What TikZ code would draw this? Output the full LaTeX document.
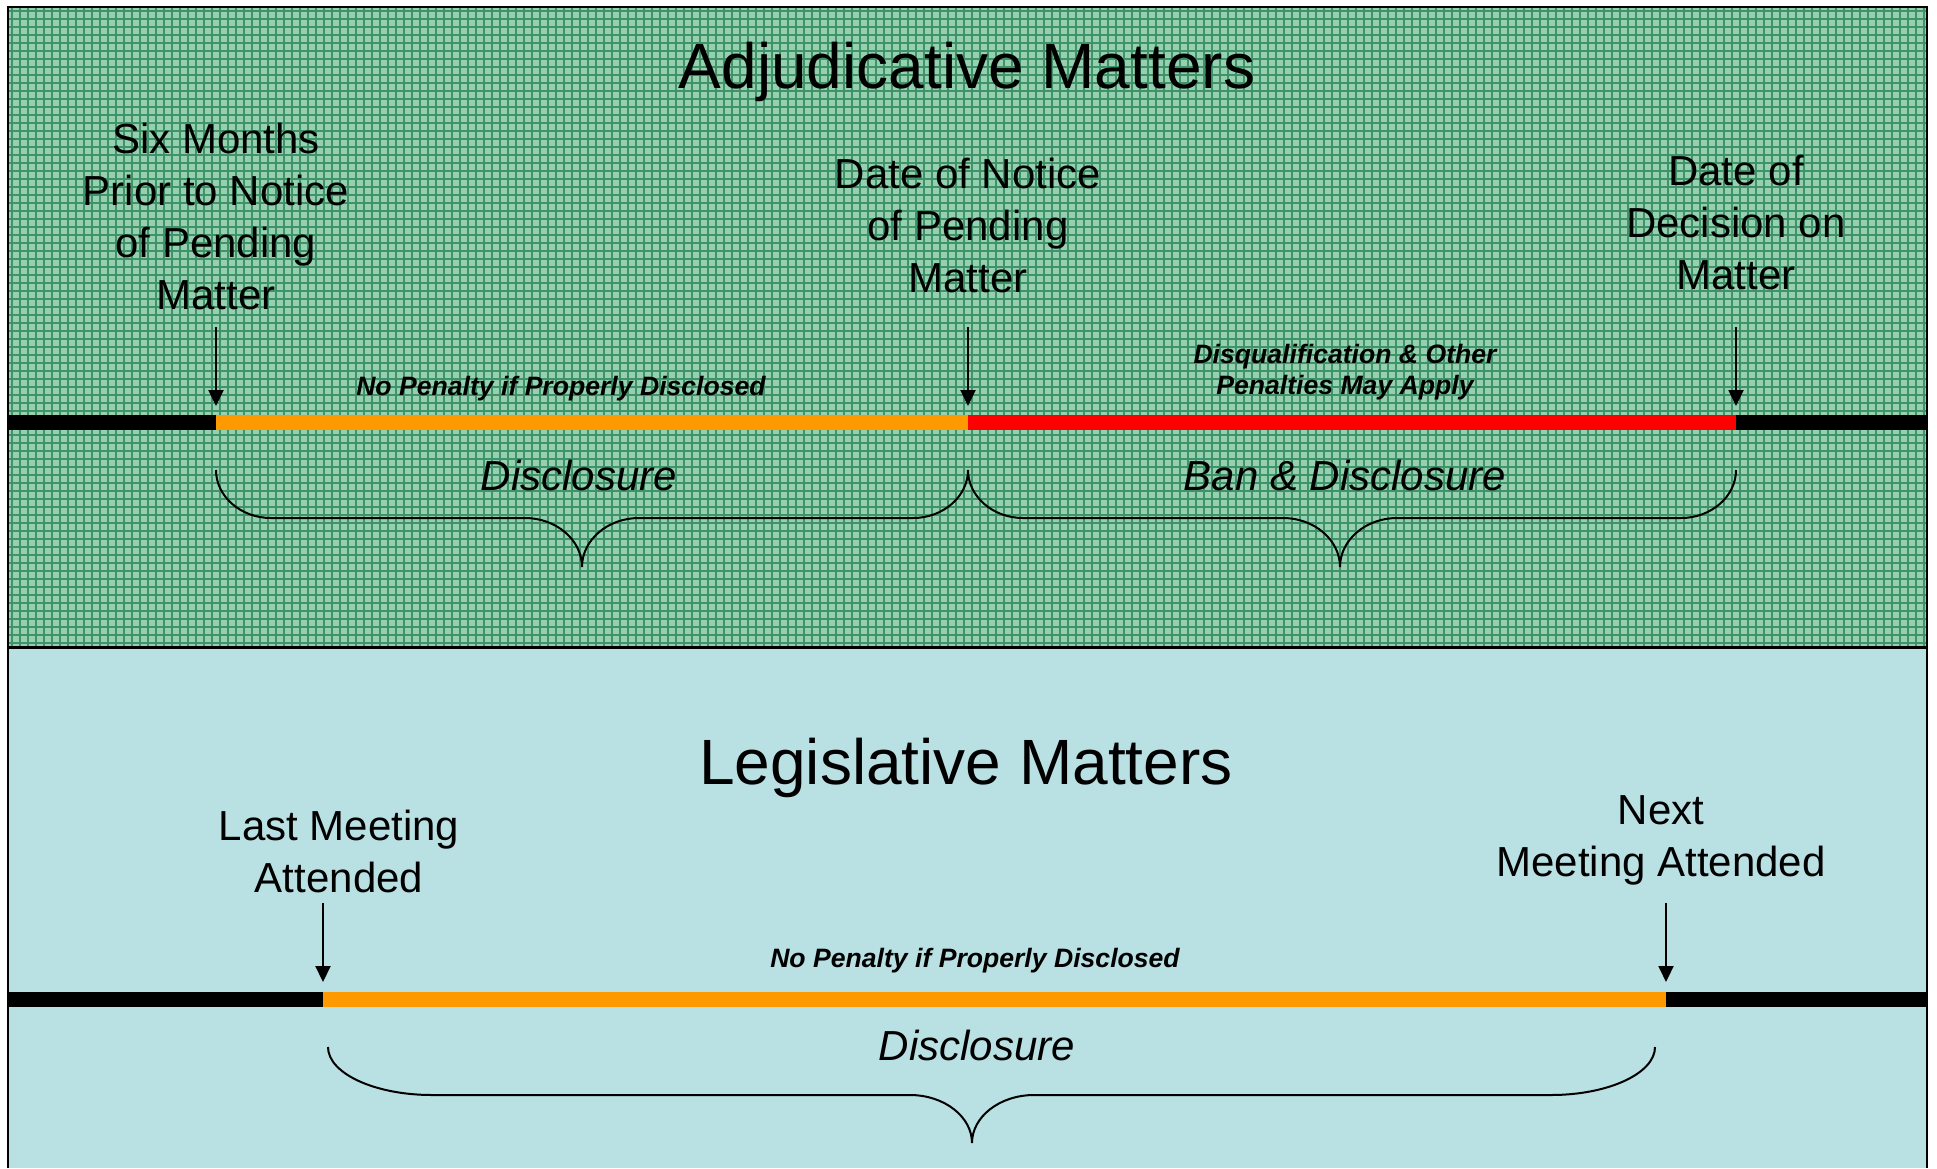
\documentclass[tikz,border=0pt]{standalone}
\usepackage{fontspec}
\setmainfont{Liberation Sans}
\usetikzlibrary{arrows.meta}

\definecolor{adjgreen}{RGB}{150,208,176}
\definecolor{adjgrid}{RGB}{62,148,104}
\definecolor{legblue}{RGB}{185,224,227}
\definecolor{barorange}{RGB}{255,153,0}
\definecolor{barred}{RGB}{255,0,0}

\tikzset{
  heading/.style={font=\fontsize{32}{38}\selectfont, anchor=base, inner sep=0pt},
  marklabel/.style={font=\fontsize{21}{26}\selectfont, align=center, anchor=south, inner sep=0pt},
  spanlabel/.style={font=\fontsize{21}{26}\selectfont\itshape, anchor=base, inner sep=0pt},
  penalty/.style={font=\fontsize{13.3}{15.5}\selectfont\bfseries\itshape, align=center, inner sep=0pt},
  pointer/.style={->, line width=1pt},
  gridline/.style={adjgrid, line width=0.6pt},
  bracepath/.style={line width=1pt},
}

% curly brace under a time span: x0, x1, tip x, top y, middle y, tip y, end radius, tip radius
\newcommand{\timebrace}[8]{%
  \draw[bracepath] (#1,#4) .. controls (#1,{#4+0.55*(#5-#4)}) and ({#1+0.45*#7},#5) .. ({#1+#7},#5)
    -- ({#3-#8},#5) .. controls ({#3-0.45*#8},#5) and (#3,{#6-0.55*(#6-#5)}) .. (#3,#6)
    .. controls (#3,{#6-0.55*(#6-#5)}) and ({#3+0.45*#8},#5) .. ({#3+#8},#5)
    -- ({#2-#7},#5) .. controls ({#2-0.45*#7},#5) and (#2,{#4+0.55*(#5-#4)}) .. (#2,#4);
}

\begin{document}
\begin{tikzpicture}[x=0.5pt,y=-0.5pt,>={Triangle[width=7.5pt,length=8pt]}]
  \useasboundingbox (0,0) rectangle (1937,1168);
  \begin{scope}

    \def\L{8}       % frame left
    \def\R{1927}    % frame right
    \def\T{7}       % frame top
    \def\S{647}     % panel split
    \def\B{1168}    % page bottom

    % panels
    \fill[adjgreen] (\L,\T) rectangle (\R,\S);
    \foreach \gx in {12,20,...,1927} \draw[gridline] (\gx,\T) -- (\gx,\S);
    \foreach \gy in {11,19,...,647} \draw[gridline] (\L,\gy) -- (\R,\gy);
    \fill[legblue] (\L,\S) rectangle (\R,\B);
    \draw[line width=1pt] (\L,\B) -- (\L,\T) -- (\R,\T) -- (\R,\B);
    \draw[line width=1.5pt] (\L,\S) -- (\R,\S);

    %% adjudicative matters
    \def\xa{216}    % six months prior
    \def\xb{968}    % notice
    \def\xc{1736}   % decision

    \coordinate (sixtop)   at (\xa,327);
    \coordinate (sixtip)   at (\xa,406);
    \coordinate (notetop)  at (\xb,327);
    \coordinate (notetip)  at (\xb,406);
    \coordinate (dectop)   at (\xc,327);
    \coordinate (dectip)   at (\xc,406);

    \fill[black]      (\L,415)  rectangle (\R,430);
    \fill[barorange]  (\xa,415) rectangle (\xb,430);
    \fill[barred]     (\xb,415) rectangle (\xc,430);

    \draw[pointer] (sixtop)  -- (sixtip);
    \draw[pointer] (notetop) -- (notetip);
    \draw[pointer] (dectop)  -- (dectip);

    \node[heading] (adj) at (967,88) {Adjudicative Matters};

    \node[marklabel] (six)      at (\xa,310) {Six Months\\Prior to Notice\\of Pending\\Matter};
    \node[marklabel] (notice)   at (\xb,293) {Date of Notice\\of Pending\\Matter};
    \node[marklabel] (decision) at (\xc,290) {Date of\\Decision on\\Matter};

    \node[penalty, anchor=base]  (nopenA) at (561,395)  {No Penalty if Properly Disclosed};
    \node[penalty, anchor=south] (disq)   at (1345,400) {Disqualification \& Other\\Penalties May Apply};

    \node[spanlabel] (discA) at (579,490)  {Disclosure};
    \node[spanlabel] (ban)   at (1345,490) {Ban \& Disclosure};

    \timebrace{\xa}{\xb}{582}{470}{518}{567}{55}{57}
    \timebrace{\xb}{\xc}{1340}{470}{518}{567}{55}{57}

    %% legislative matters
    \def\xd{323}    % last meeting
    \def\xe{1666}   % next meeting

    \coordinate (lasttop) at (\xd,903);
    \coordinate (lasttip) at (\xd,982);
    \coordinate (nexttop) at (\xe,903);
    \coordinate (nexttip) at (\xe,982);

    \fill[black]     (\L,992)  rectangle (\R,1007);
    \fill[barorange] (\xd,992) rectangle (\xe,1007);

    \draw[pointer] (lasttop) -- (lasttip);
    \draw[pointer] (nexttop) -- (nexttip);

    \node[heading] (leg) at (966,784) {Legislative Matters};

    \node[marklabel] (last) at (339,893)  {Last Meeting\\Attended};
    \node[marklabel] (next) at (1661,886) {Next\\Meeting Attended};

    \node[penalty, anchor=base] (nopenB) at (975,967) {No Penalty if Properly Disclosed};
    \node[spanlabel] (discB) at (977,1060) {Disclosure};

    \timebrace{328}{1655}{972}{1047}{1095}{1143}{104}{62}

  \end{scope}
\end{tikzpicture}
\end{document}
